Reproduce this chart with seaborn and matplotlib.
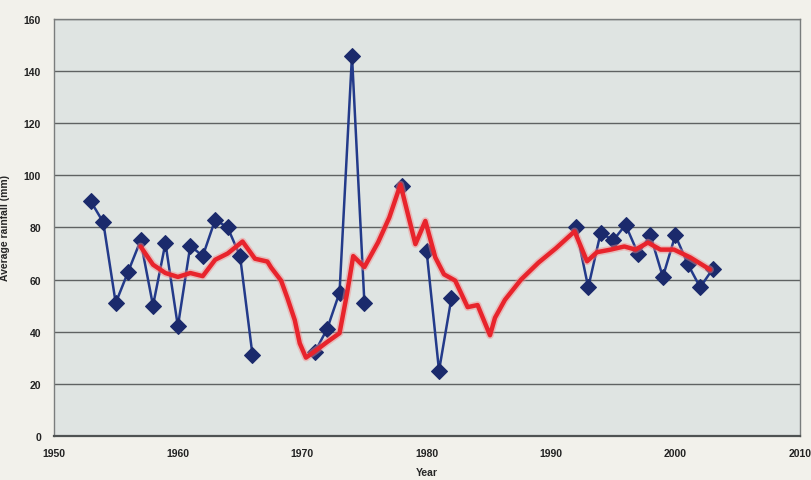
"""Average rainfall by year: observed yearly values (blue) and smoothed trend (red)."""
import matplotlib
matplotlib.use("Agg")
import matplotlib.pyplot as plt
import numpy as np
import pandas as pd
import seaborn as sns

# ----- data ------------------------------------------------------------------
obs_years = [1953, 1954, 1955, 1956, 1957, 1958, 1959, 1960, 1961, 1962,
             1963, 1964, 1965, 1966,
             1971, 1972, 1973, 1974, 1975,
             1978,
             1980, 1981, 1982,
             1992, 1993, 1994, 1995, 1996, 1997, 1998, 1999, 2000, 2001,
             2002, 2003]
obs_rain = [90, 82, 51, 63, 75, 50, 74, 42, 73, 69,
            83, 80, 69, 31,
            32, 41, 55, 146, 51,
            96,
            71, 25, 53,
            80, 57, 78, 75, 81, 70, 77, 61, 77, 66,
            57, 64]

trend_years = [1957.0, 1958.0, 1959.0, 1960.0, 1961.0, 1962.0, 1963.0, 1964.0,
               1965.2, 1966.2, 1967.2, 1967.5, 1968.3, 1968.8, 1969.4, 1969.8,
               1970.3, 1971.0, 1972.0, 1973.0, 1973.6, 1974.1, 1975.0, 1976.1,
               1977.0, 1977.9, 1979.1, 1979.9, 1980.7, 1981.4, 1982.3, 1983.3,
               1984.1, 1985.1, 1985.5, 1986.3, 1987.6, 1989.0, 1990.4, 1991.9,
               1992.9, 1993.7, 1994.8, 1995.9, 1996.8, 1997.8, 1998.8, 1999.9,
               2001.2, 2002.8]
trend_rain = [72.7, 65.7, 62.5, 61.0, 62.5, 61.3, 67.6, 70.0,
              74.6, 68.0, 66.9, 64.6, 59.6, 53.0, 44.4, 35.5,
              30.0, 32.4, 36.0, 39.4, 54.6, 69.0, 64.8, 74.3,
              83.8, 96.5, 73.6, 82.5, 68.5, 62.0, 59.6, 49.4,
              50.2, 38.6, 45.3, 52.2, 60.0, 66.5, 72.0, 78.5,
              67.0, 70.5, 71.5, 72.7, 71.5, 74.2, 71.5, 71.5,
              68.5, 63.8]

x_ticks = [1950, 1960, 1970, 1980, 1990, 2000, 2010]
y_ticks = [0, 20, 40, 60, 80, 100, 120, 140, 160]

# ----- frames ----------------------------------------------------------------
obs = pd.DataFrame({"year": obs_years, "rain": obs_rain})
# break the blue line wherever years are missing
obs["segment"] = np.cumsum(np.diff(obs["year"], prepend=obs["year"].iloc[0]) > 1)
trend = pd.DataFrame({"year": trend_years, "rain": trend_rain})

# ----- style -----------------------------------------------------------------
sns.set_style("white")
plt.rcParams.update({
    "font.family": ["Liberation Sans", "DejaVu Sans"],
    "font.size": 7.5,
})

BLUE = "#233a8a"
MARK = "#1b2a6c"
RED = "#e8242c"

fig = plt.figure(figsize=(8.11, 4.81), dpi=100, facecolor="#f2f1eb")
ax = fig.add_axes([0.066, 0.092, 0.920, 0.866])
ax.set_facecolor("#dfe4e2")

sns.lineplot(data=obs, x="year", y="rain", units="segment", estimator=None,
             color=BLUE, lw=1.8, marker="D", markersize=8,
             markerfacecolor=MARK, markeredgecolor=MARK, ax=ax, zorder=3)
# faint halo under the trend line, as in the printed chart
sns.lineplot(data=trend, x="year", y="rain", color="#f08a8a", lw=5.5, alpha=0.45,
             ax=ax, zorder=4, solid_joinstyle="round", solid_capstyle="round")
sns.lineplot(data=trend, x="year", y="rain", color=RED, lw=3.2,
             ax=ax, zorder=5, solid_joinstyle="round", solid_capstyle="round")

ax.set_xlim(1950, 2010)
ax.set_ylim(0, 160)
ax.set_xticks(x_ticks)
ax.set_yticks(y_ticks)
ax.set_xticklabels([str(t) for t in x_ticks], fontweight="bold", color="#222222")
ax.set_yticklabels([str(t) for t in y_ticks], fontweight="bold", color="#222222")
ax.tick_params(axis="both", length=3, width=0.8, color="#555555", pad=6)

ax.yaxis.grid(True, color="#5f6262", lw=1.0)
ax.xaxis.grid(False)
ax.set_axisbelow(True)
for side in ["left", "bottom", "top", "right"]:
    ax.spines[side].set_visible(True)
    ax.spines[side].set_color("#7a7d7d")
    ax.spines[side].set_linewidth(1.0)
ax.spines["bottom"].set_color("#4e5252")
ax.spines["bottom"].set_linewidth(1.6)

ax.set_xlabel("Year", fontweight="bold", fontsize=7.5, labelpad=6)
ax.set_ylabel("Average rainfall (mm)", fontweight="bold", fontsize=7.5, labelpad=10)

fig.savefig("out.png", dpi=100, facecolor=fig.get_facecolor())
